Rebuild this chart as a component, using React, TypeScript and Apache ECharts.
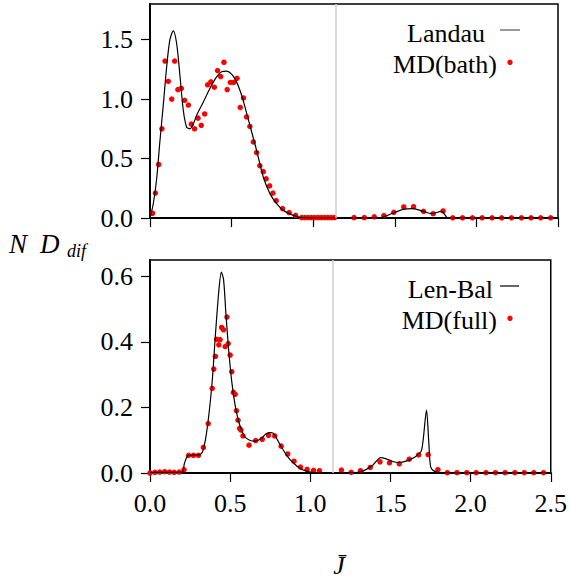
import React, { useEffect, useRef } from "react";
import * as echarts from "echarts";

// ---- Top panel: MD(bath) points and Landau curve ----
const bathX = [0.016, 0.033, 0.053, 0.073, 0.092, 0.112, 0.133, 0.151, 0.171, 0.192, 0.212, 0.235, 0.253, 0.273, 0.294, 0.314, 0.335, 0.353, 0.373, 0.394, 0.414, 0.433, 0.453, 0.473, 0.492, 0.512, 0.533, 0.553, 0.573, 0.592, 0.612, 0.633, 0.653, 0.673, 0.694, 0.712, 0.733, 0.753, 0.773, 0.812, 0.853, 0.892, 0.93, 0.95, 0.97, 0.99, 1.01, 1.03, 1.05, 1.07, 1.09, 1.11, 1.13, 1.25, 1.313, 1.374, 1.433, 1.494, 1.555, 1.615, 1.676, 1.735, 1.796, 1.855, 1.915, 1.976, 2.035, 2.096, 2.155, 2.215, 2.276, 2.335, 2.394, 2.455];
const bathY = [0.04, 0.21, 0.45, 0.75, 1.32, 1.15, 1.0, 1.32, 1.08, 1.09, 0.99, 0.95, 0.79, 0.75, 0.84, 0.78, 0.875, 1.12, 1.145, 1.1, 1.24, 1.19, 1.31, 1.08, 1.14, 1.14, 1.175, 0.93, 1.01, 0.85, 0.77, 0.64, 0.55, 0.44, 0.39, 0.33, 0.27, 0.21, 0.146, 0.079, 0.045, 0.022, 0.003, 0.003, 0.003, 0.003, 0.003, 0.003, 0.003, 0.003, 0.003, 0.003, 0.003, 0.003, 0.003, 0.01, 0.02, 0.048, 0.093, 0.095, 0.056, 0.036, 0.059, 0.002, 0.002, 0.002, 0.002, 0.002, 0.002, 0.002, 0.002, 0.002, 0.002, 0.002];

const landauX = [0, 0.02, 0.04, 0.061, 0.082, 0.102, 0.122, 0.143, 0.163, 0.184, 0.204, 0.224, 0.245, 0.265, 0.286, 0.327, 0.367, 0.408, 0.439, 0.469, 0.5, 0.53, 0.551, 0.571, 0.612, 0.653, 0.694, 0.735, 0.776, 0.816, 0.878, 0.92, 1.0, 1.1, 1.2, 1.3, 1.37, 1.43, 1.49, 1.551, 1.612, 1.674, 1.725, 1.786, 1.827, 1.9, 2.1, 2.3, 2.5];
const landauY = [0, 0.12, 0.32, 0.65, 0.96, 1.27, 1.5, 1.574, 1.47, 1.19, 0.906, 0.766, 0.75, 0.79, 0.864, 0.976, 1.09, 1.187, 1.23, 1.235, 1.21, 1.145, 1.075, 0.99, 0.78, 0.57, 0.345, 0.205, 0.12, 0.065, 0.022, 0.005, 0, 0, 0, 0, 0, 0.008, 0.042, 0.073, 0.079, 0.056, 0.036, 0.056, 0, 0, 0, 0, 0];

// ---- Bottom panel: MD(full) points and Len-Bal curve ----
const fullX = [0, 0.031, 0.061, 0.092, 0.122, 0.151, 0.182, 0.212, 0.241, 0.271, 0.302, 0.333, 0.363, 0.388, 0.398, 0.408, 0.416, 0.429, 0.437, 0.447, 0.459, 0.469, 0.48, 0.488, 0.5, 0.51, 0.52, 0.531, 0.539, 0.549, 0.559, 0.567, 0.58, 0.618, 0.659, 0.7, 0.739, 0.778, 0.818, 0.859, 0.898, 0.939, 0.98, 1.02, 1.057, 1.194, 1.255, 1.313, 1.374, 1.435, 1.494, 1.555, 1.617, 1.676, 1.735, 1.796, 1.855, 1.915, 1.976, 2.035, 2.096, 2.155, 2.215, 2.276, 2.335, 2.394, 2.455];
const fullY = [0, 0.002, 0.003, 0.004, 0.003, 0.002, 0.003, 0.01, 0.054, 0.054, 0.054, 0.078, 0.151, 0.258, 0.317, 0.356, 0.408, 0.391, 0.407, 0.444, 0.437, 0.386, 0.476, 0.395, 0.36, 0.309, 0.246, 0.24, 0.19, 0.161, 0.136, 0.131, 0.113, 0.085, 0.099, 0.103, 0.115, 0.113, 0.082, 0.058, 0.036, 0.018, 0.011, 0.008, 0.007, 0.009, 0.002, 0.007, 0.017, 0.034, 0.031, 0.028, 0.042, 0.055, 0.056, 0.01, 0.001, 0.001, 0.001, 0.001, 0.001, 0.001, 0.001, 0.001, 0.001, 0.001, 0.001];

const lenBalX = [0, 0.1, 0.2, 0.215, 0.235, 0.27, 0.306, 0.327, 0.347, 0.367, 0.388, 0.408, 0.429, 0.445, 0.459, 0.473, 0.49, 0.51, 0.531, 0.551, 0.571, 0.592, 0.622, 0.653, 0.694, 0.724, 0.755, 0.776, 0.796, 0.827, 0.857, 0.898, 0.939, 0.98, 1.02, 1.1, 1.2, 1.3, 1.326, 1.388, 1.439, 1.47, 1.51, 1.551, 1.602, 1.653, 1.694, 1.725, 1.739, 1.751, 1.776, 1.82, 2.0, 2.5];
const lenBalY = [0.002, 0.002, 0.003, 0.03, 0.052, 0.055, 0.055, 0.064, 0.105, 0.177, 0.279, 0.421, 0.554, 0.613, 0.59, 0.49, 0.38, 0.279, 0.207, 0.161, 0.131, 0.11, 0.1, 0.097, 0.105, 0.12, 0.123, 0.118, 0.1, 0.074, 0.051, 0.029, 0.013, 0.005, 0.001, 0, 0, 0.002, 0.005, 0.023, 0.047, 0.044, 0.036, 0.032, 0.037, 0.049, 0.069, 0.192, 0.095, 0.018, 0.005, 0, 0, 0];

// ---- Axes ----
const xTicks = [0, 0.5, 1, 1.5, 2, 2.5];
const topYTicks = [0, 0.5, 1, 1.5];
const bottomYTicks = [0, 0.2, 0.4, 0.6];
const dividerX = 1.14;

const FONT = "Liberation Serif";
const FS = 26;

const zip = (xs: number[], ys: number[]) => xs.map((x, i) => [x, ys[i]]);

export default function App() {
  const ref = useRef<HTMLDivElement | null>(null);

  useEffect(() => {
    if (!ref.current) return;
    const chart = echarts.init(ref.current, undefined, { renderer: "svg" });

    const xAxisBase = (gridIndex: number, showLabels: boolean) => ({
      gridIndex,
      type: "value",
      min: 0,
      max: 2.5,
      interval: 0.5,
      axisLine: { show: true, onZero: false, lineStyle: { color: "#000", width: 2 } },
      axisTick: { show: true, inside: false, length: 9, customValues: xTicks, lineStyle: { color: "#000", width: 1.2 } },
      axisLabel: {
        show: showLabels,
        customValues: xTicks,
        fontFamily: FONT,
        fontSize: FS,
        color: "#000",
        margin: 17,
        formatter: (v: number) => v.toFixed(1),
      },
      splitLine: { show: false },
    });

    const yAxisBase = (gridIndex: number, max: number, ticks: number[]) => ({
      gridIndex,
      type: "value",
      min: 0,
      max,
      axisLine: { show: true, onZero: false, lineStyle: { color: "#000", width: 2 } },
      axisTick: { show: true, inside: false, length: 9, customValues: ticks, lineStyle: { color: "#000", width: 1.2 } },
      axisLabel: {
        show: true,
        customValues: ticks,
        fontFamily: FONT,
        fontSize: FS,
        color: "#000",
        margin: 17,
        formatter: (v: number) => v.toFixed(1),
      },
      splitLine: { show: false },
    });

    const divider = {
      silent: true,
      symbol: "none",
      label: { show: false },
      lineStyle: { color: "#cfcfcf", width: 1.5, type: "solid" },
      data: [{ xAxis: dividerX }],
    };

    const textStyle = (text: string, extra: any = {}) => ({
      text,
      fontFamily: FONT,
      fontSize: FS,
      fill: "#000",
      ...extra,
    });

    chart.setOption({
      animation: false,
      backgroundColor: "#fff",
      textStyle: { fontFamily: FONT },
      grid: [
        { left: 150, top: 4, width: 408, height: 214, show: true, borderColor: "#000", borderWidth: 1.5, backgroundColor: "transparent" },
        { left: 150, top: 260, width: 408, height: 213, show: true, borderColor: "#000", borderWidth: 1.5, backgroundColor: "transparent" },
      ],
      xAxis: [xAxisBase(0, false), xAxisBase(1, true)],
      yAxis: [yAxisBase(0, 1.8, topYTicks), yAxisBase(1, 0.65, bottomYTicks)],
      series: [
        {
          name: "Landau",
          type: "line",
          xAxisIndex: 0,
          yAxisIndex: 0,
          data: zip(landauX, landauY),
          showSymbol: false,
          smooth: 0.3,
          lineStyle: { color: "#000", width: 1.2 },
          markLine: divider,
        },
        {
          name: "MD(bath)",
          type: "scatter",
          xAxisIndex: 0,
          yAxisIndex: 0,
          data: zip(bathX, bathY),
          symbolSize: 5.5,
          itemStyle: { color: "#ff0000", opacity: 1 },
        },
        {
          name: "Len-Bal",
          type: "line",
          xAxisIndex: 1,
          yAxisIndex: 1,
          data: zip(lenBalX, lenBalY),
          showSymbol: false,
          smooth: 0.25,
          lineStyle: { color: "#000", width: 1.2 },
          markLine: divider,
        },
        {
          name: "MD(full)",
          type: "scatter",
          xAxisIndex: 1,
          yAxisIndex: 1,
          data: zip(fullX, fullY),
          symbolSize: 5.5,
          itemStyle: { color: "#ff0000", opacity: 1 },
        },
      ],
      graphic: [
        // top legend
        { type: "text", x: 485, y: 33.5, style: textStyle("Landau", { align: "right", verticalAlign: "middle" }) },
        { type: "line", shape: { x1: 500, y1: 30, x2: 520, y2: 30 }, style: { stroke: "#555", lineWidth: 1.2 } },
        { type: "text", x: 497, y: 64.5, style: textStyle("MD(bath)", { align: "right", verticalAlign: "middle" }) },
        { type: "circle", shape: { cx: 510, cy: 62.3, r: 2.7 }, style: { fill: "#ff0000" } },
        // bottom legend
        { type: "text", x: 493, y: 289, style: textStyle("Len-Bal", { align: "right", verticalAlign: "middle" }) },
        { type: "line", shape: { x1: 500, y1: 286, x2: 519, y2: 286 }, style: { stroke: "#000", lineWidth: 1.2 } },
        { type: "text", x: 497, y: 320, style: textStyle("MD(full)", { align: "right", verticalAlign: "middle" }) },
        { type: "circle", shape: { cx: 510, cy: 318.3, r: 2.7 }, style: { fill: "#ff0000" } },
        // y axis name
        { type: "text", x: 9, y: 243.5, style: textStyle("N", { fontStyle: "italic", fontSize: 27, align: "left", verticalAlign: "middle" }) },
        { type: "text", x: 40, y: 243.5, style: textStyle("D", { fontStyle: "italic", fontSize: 27, align: "left", verticalAlign: "middle" }) },
        { type: "text", x: 67, y: 250.5, style: textStyle("dif", { fontStyle: "italic", fontSize: 18, align: "left", verticalAlign: "middle" }) },
        // x axis name
        { type: "text", x: 339, y: 565, style: textStyle("J\u0304", { fontStyle: "italic", align: "center", verticalAlign: "middle" }) },
      ],
    });

    return () => chart.dispose();
  }, []);

  return (
    <div
      ref={ref}
      style={{ position: "fixed", left: 0, top: 0, width: 570, height: 580, background: "#fff" }}
    />
  );
}
